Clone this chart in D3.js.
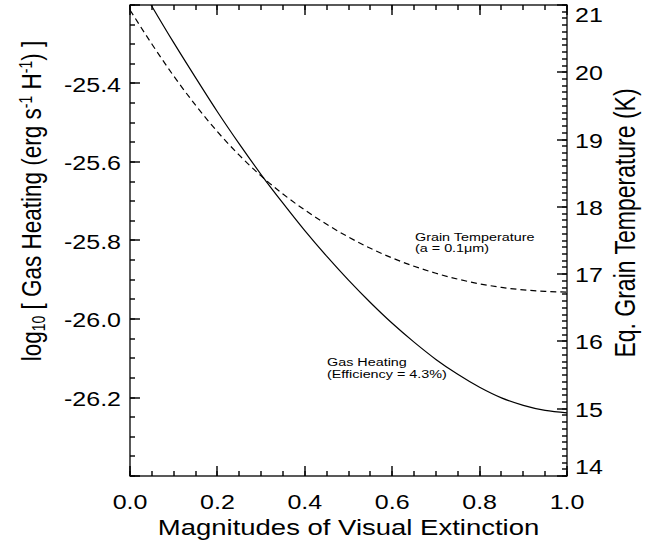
<!DOCTYPE html>
<html>
<head>
<meta charset="utf-8">
<script src="https://cdn.jsdelivr.net/npm/d3@7"></script>
<style>
  body { margin: 0; background: #fff; }
  svg { display: block; }
  text { font-family: "Liberation Sans", Arial, Helvetica, sans-serif; fill: #000; }
</style>
</head>
<body>
<div id="chart"></div>
<script>
// values
const extinction = [0.00, 0.05, 0.10, 0.15, 0.20, 0.25, 0.30, 0.35, 0.40, 0.45, 0.50,
                    0.55, 0.60, 0.65, 0.70, 0.75, 0.80, 0.85, 0.90, 0.95, 1.00];
const gasHeating = [-25.107, -25.203, -25.296, -25.385, -25.472, -25.554, -25.632, -25.705, -25.775, -25.840, -25.901,
                    -25.958, -26.011, -26.059, -26.103, -26.141, -26.174, -26.201, -26.220, -26.233, -26.239];
const grainTemp = [20.926, 20.420, 19.945, 19.511, 19.117, 18.768, 18.460, 18.191, 17.953, 17.741, 17.551,
                   17.384, 17.240, 17.117, 17.013, 16.926, 16.856, 16.803, 16.766, 16.744, 16.732];

const xTicks = [0.0, 0.2, 0.4, 0.6, 0.8, 1.0];
const xTickLabels = ["0.0", "0.2", "0.4", "0.6", "0.8", "1.0"];
const leftTicks = [-26.2, -26.0, -25.8, -25.6, -25.4];
const leftTickLabels = ["-26.2", "-26.0", "-25.8", "-25.6", "-25.4"];
const rightTicks = [14, 15, 16, 17, 18, 19, 20, 21];
const rightTickLabels = ["14", "15", "16", "17", "18", "19", "20", "21"];

const W = 657, H = 547;
const margin = {top: 5, right: 90, bottom: 71, left: 130};
const width = W - margin.left - margin.right;
const height = H - margin.top - margin.bottom;
const SX = 1.25; // the reference text is stretched sideways

const svg = d3.select("#chart").append("svg")
  .attr("width", W).attr("height", H);
const g = svg.append("g")
  .attr("transform", "translate(" + margin.left + "," + margin.top + ")");

const x = d3.scaleLinear().domain([0, 1]).range([0, width]);
const yL = d3.scaleLinear().domain([-26.4, -25.2]).range([height, 0]);
const yR = d3.scaleLinear().domain([14, 21]).range([height, 0]);

function label(parent, px, py, str, size, anchor, rot) {
  return parent.append("text")
    .attr("transform", "translate(" + px + "," + py + ") scale(" + SX + ",1)" + (rot ? " rotate(" + rot + ")" : ""))
    .attr("text-anchor", anchor)
    .style("font-size", size + "px")
    .text(str);
}

// tick marks, all pointing inward; thin filled rects
const xMinor = d3.range(0, 1.0001, 0.05);
const lMinor = d3.range(-26.4, -25.1999, 0.05);
const lMajor = d3.range(-26.4, -25.1999, 0.2);
const rMinor = d3.range(14, 21.0001, 0.1);

const tickG = g.append("g").attr("fill", "#111");
function vTicks(vals, y0, len) {
  tickG.selectAll(null).data(vals).enter().append("rect")
    .attr("x", v => Math.round(x(v)) - 0.75).attr("width", 1.5)
    .attr("y", len < 0 ? y0 + len : y0).attr("height", Math.abs(len));
}
function hTicks(vals, scale, x0, len) {
  tickG.selectAll(null).data(vals).enter().append("rect")
    .attr("y", v => Math.round(scale(v)) - 0.75).attr("height", 1.5)
    .attr("x", len < 0 ? x0 + len : x0).attr("width", Math.abs(len));
}
vTicks(xMinor, height, -5);
vTicks(xTicks, height, -10);
vTicks(xMinor, 0, 5);
vTicks(xTicks, 0, 10);
hTicks(lMinor, yL, 0, 5);
hTicks(lMajor, yL, 0, 10);
hTicks(rMinor, yR, width, -5);
hTicks(rightTicks, yR, width, -10);

g.append("rect")
  .attr("x", 0).attr("y", 0).attr("width", width).attr("height", height)
  .attr("fill", "none").attr("stroke", "#000").attr("stroke-width", 1.3);

// tick labels
xTicks.forEach((v, i) => label(g, x(v), height + 33, xTickLabels[i], 20, "middle"));
leftTicks.forEach((v, i) => label(g, -9, yL(v) + 8, leftTickLabels[i], 20, "end"));
rightTicks.forEach((v, i) => {
  let dy = 8;
  if (i === 0) dy = -2;
  if (i === rightTicks.length - 1) dy = 17;
  label(g, width + 8, yR(v) + dy, rightTickLabels[i], 20, "start");
});

// curves
svg.append("clipPath").attr("id", "clip")
  .append("rect").attr("width", width).attr("height", height);
const plot = g.append("g").attr("clip-path", "url(#clip)");

const gasLine = d3.line()
  .x((d, i) => x(extinction[i]))
  .y(d => yL(d))
  .curve(d3.curveMonotoneX);
const tempLine = d3.line()
  .x((d, i) => x(extinction[i]))
  .y(d => yR(d))
  .curve(d3.curveMonotoneX);

plot.append("path").datum(gasHeating)
  .attr("d", gasLine)
  .attr("fill", "none").attr("stroke", "#000").attr("stroke-width", 1.2);
plot.append("path").datum(grainTemp)
  .attr("d", tempLine)
  .attr("fill", "none").attr("stroke", "#000").attr("stroke-width", 1.2)
  .attr("stroke-dasharray", "6,4");

// annotations
label(g, 285, 236, "Grain Temperature", 11.5, "start");
label(g, 285, 246.5, "(a = 0.1\u03bcm)", 11.5, "start");
label(g, 197, 361, "Gas Heating", 11.5, "start");
label(g, 197, 373, "(Efficiency = 4.3%)", 11.5, "start");

// axis titles
label(svg, 348.5, 535, "Magnitudes of Visual Extinction", 22, "middle");

const lt = svg.append("text")
  .attr("transform", "translate(41,201) scale(" + SX + ",1) rotate(-90)")
  .attr("text-anchor", "middle")
  .style("font-size", "22.5px");
lt.append("tspan").text("log");
lt.append("tspan").attr("baseline-shift", "-25%").style("font-size", "14px").text("10");
lt.append("tspan").text(" [ Gas Heating (erg s");
lt.append("tspan").attr("baseline-shift", "super").style("font-size", "14px").text("-1");
lt.append("tspan").text(" H");
lt.append("tspan").attr("baseline-shift", "super").style("font-size", "14px").text("-1");
lt.append("tspan").text(") ]");

label(svg, 635, 223, "Eq. Grain Temperature (K)", 23, "middle", -90);
</script>
</body>
</html>
